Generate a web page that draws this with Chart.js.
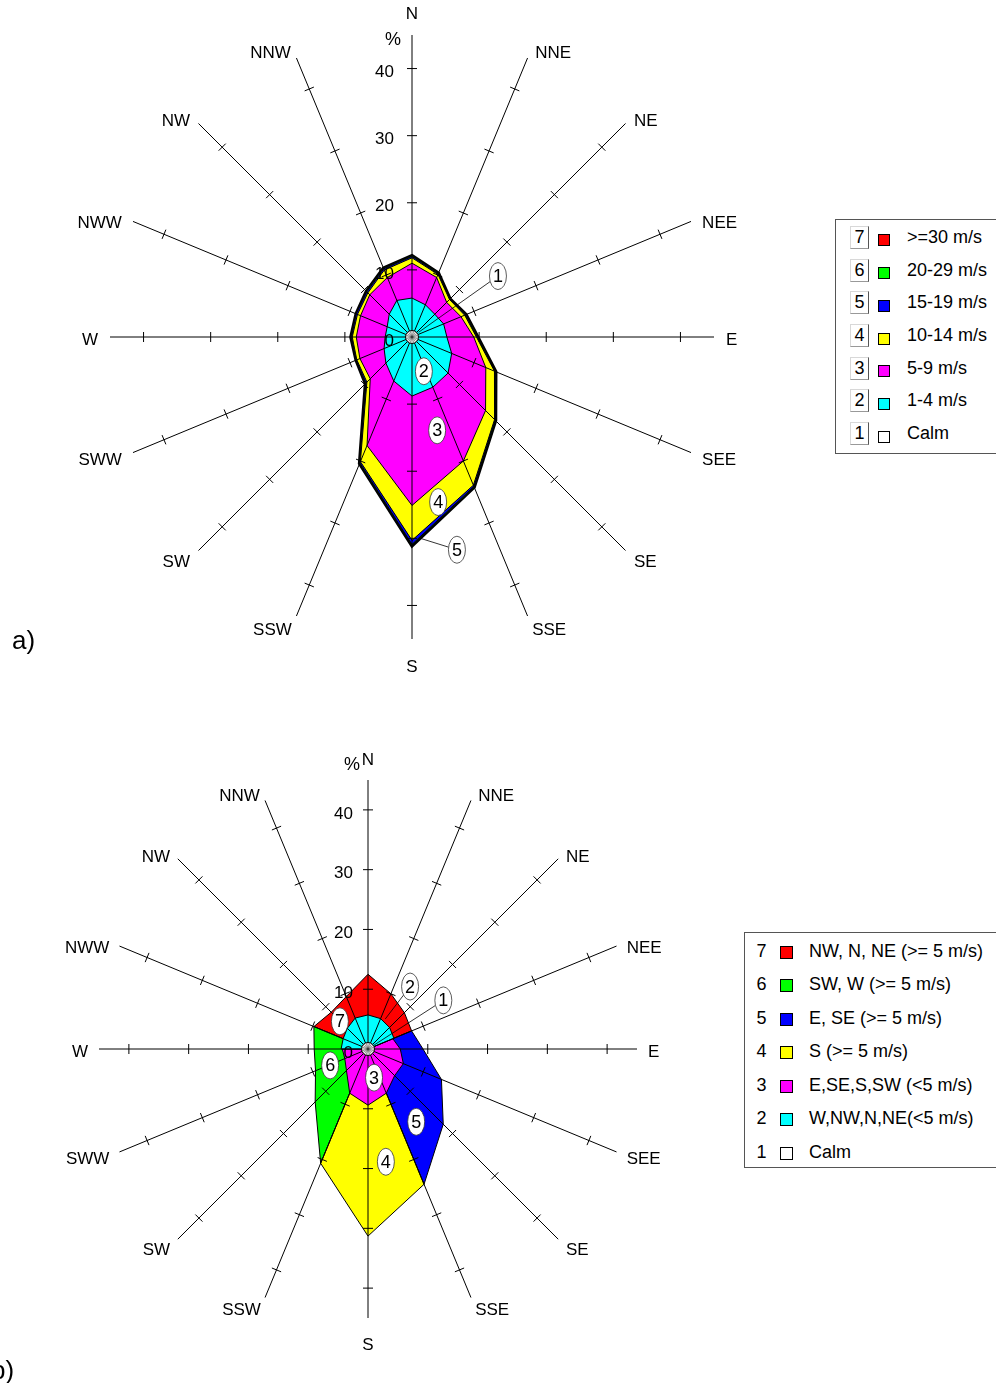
<!DOCTYPE html>
<html lang="en">
<head>
<meta charset="utf-8">
<title>Wind roses</title>
<script src="https://cdn.jsdelivr.net/npm/chart.js@4.4.1/dist/chart.umd.min.js"></script>
<style>
  html, body { margin: 0; padding: 0; background: #fff; }
  body { position: relative; width: 996px; height: 1383px; overflow: hidden;
         font-family: "Liberation Sans", Arial, Helvetica, sans-serif; color: #000; }
  canvas { position: absolute; left: 0; }
  #roseA { top: 0; }
  #roseB { top: 700px; }
  .panel-tag { position: absolute; font-size: 26px; line-height: 30px; }
  .legend { position: absolute; background: #fff; border: 1px solid #555; box-sizing: border-box; z-index: 2; }
  .lg-row { position: absolute; left: 0; right: 0; display: flex; align-items: center; font-size: 18px; white-space: nowrap; }
  .lg-num { text-align: center; box-sizing: border-box; flex: none; }
  .framed .lg-num { border-top: 1px solid #d8d8d8; border-left: 1px solid #d8d8d8;
                    border-right: 1px solid #555; border-bottom: 1px solid #999; height: 23px; line-height: 21px; }
  .lg-sw { border: 1px solid #000; box-sizing: border-box; flex: none; position: relative; }
</style>
</head>
<body>
<canvas id="roseA" width="830" height="700"></canvas>
<canvas id="roseB" width="830" height="683"></canvas>
<div class="panel-tag" style="left:12px;top:625px;">a)</div>
<div class="panel-tag" style="left:-9px;top:1355px;">b)</div>
<div class="legend framed" id="legendA" style="left:835px;top:219px;width:175px;height:235px;"></div>
<div class="legend" id="legendB" style="left:744px;top:932px;width:260px;height:236px;"></div>
<script>
// ---- shared axis definition ----
const DIRECTIONS = ['N', 'NNE', 'NE', 'NEE', 'E', 'SEE', 'SE', 'SSE', 'S', 'SSW', 'SW', 'SWW', 'W', 'NWW', 'NW', 'NNW'];
const RADIAL_TICKS = [0, 10, 20, 30, 40];
const RADIAL_MAX = 45;

// class colours, class 1 (Calm) .. class 7
const CLASS_COLORS = ['#ffffff', '#00ffff', '#ff00ff', '#ffff00', '#0000ff', '#00ff00', '#ff0000'];

// ---- rose a: frequency (%) of each wind-speed class per direction ----
const A_CLASS_LABELS = ['Calm', '1-4 m/s', '5-9 m/s', '10-14 m/s', '15-19 m/s', '20-29 m/s', '>=30 m/s'];
const A_SPEED_1_4   = [5.8, 5.2, 4.8, 5.1, 5.2, 6.4, 7.6, 8.1, 8.8, 7.1, 5.5, 4.5, 4.0, 4.0, 4.8, 5.9];
const A_SPEED_5_9   = [5.2, 4.4, 2.5, 2.8, 4.0, 5.5, 7.9, 11.9, 16.3, 10.4, 3.3, 3.9, 4.3, 4.3, 4.1, 3.7];
const A_SPEED_10_14 = [0.8, 0.5, 0.6, 0.6, 0.4, 1.4, 1.9, 3.9, 5.2, 2.6, 0.7, 0.5, 0.6, 0.5, 0.4, 1.2];
const A_SPEED_15_19 = [0.2, 0.1, 0.1, 0.1, 0.1, 0.1, 0.1, 0.2, 0.6, 0.2, 0.2, 0.1, 0.1, 0.2, 0.2, 0.2];
const A_SPEED_20_29 = [0.1, 0.1, 0.0, 0.1, 0.1, 0.1, 0.1, 0.1, 0.1, 0.1, 0.1, 0.0, 0.1, 0.0, 0.1, 0.1];
const A_SPEED_30_UP = [0.0, 0.0, 0.0, 0.0, 0.0, 0.0, 0.0, 0.0, 0.1, 0.0, 0.0, 0.0, 0.0, 0.0, 0.0, 0.0];

// ---- rose b: grouped sectors, outer radius (%) per direction (0 = not part of the group) ----
const B_CLASS_LABELS = ['Calm', 'W,NW,N,NE(<5 m/s)', 'E,SE,S,SW (<5 m/s)', 'S (>= 5 m/s)',
                        'E, SE (>= 5 m/s)', 'SW, W (>= 5 m/s)', 'NW, N, NE (>= 5 m/s)'];
const B_NORTH_LOW  = [5.7, 5.5, 5.1, 4.7, 0, 0, 0, 0, 0, 0, 0, 0, 4.5, 4.5, 4.9, 5.6];
const B_SOUTH_LOW  = [0, 0, 0, 4.5, 5.4, 6.4, 6.3, 8.0, 9.4, 8.0, 5.1, 4.2, 4.3, 0, 0, 0];
const B_S_HIGH     = [0, 0, 0, 0, 0, 0, 0, 24.5, 31.3, 20.7, 0, 0, 0, 0, 0, 0];
const B_E_SE_HIGH  = [0, 0, 0, 7.9, 9.2, 13.3, 17.8, 24.5, 0, 0, 0, 0, 0, 0, 0, 0];
const B_SW_W_HIGH  = [0, 0, 0, 0, 0, 0, 0, 0, 0, 20.7, 12.5, 9.5, 9.0, 9.8, 0, 0];
const B_NW_NE_HIGH = [12.5, 10.0, 8.6, 7.9, 0, 0, 0, 0, 0, 0, 0, 0, 0, 9.8, 8.7, 9.5];

// numbered class markers: [text, direction index, value %, leader direction index, leader value %]
const A_MARKERS = [
  ['1', 2.43, 15.7, 2.43, 1.2],
  ['2', 7.15, 5.4],
  ['3', 7.33, 14.4],
  ['4', 7.6, 24.9],
  ['5', 7.47, 32.4, 7.9, 30.0]
];
const B_MARKERS = [
  ['1', 2.54, 15.0, 2.54, 1.2],
  ['2', 1.51, 12.6, 1.33, 5.8],
  ['3', 7.47, 4.9],
  ['4', 7.6, 19.1],
  ['5', 6.51, 14.6],
  ['6', 10.96, 6.9],
  ['7', 13.98, 6.6]
];

const FONT = '"Liberation Sans", Arial, Helvetica, sans-serif';

// running totals, one ring per speed class
function cumulate(layers) {
  let run = new Array(DIRECTIONS.length).fill(0);
  return layers.map(layer => {
    run = run.map((v, i) => Math.round((v + layer[i]) * 100) / 100);
    return run.slice();
  });
}

// spokes' tick marks, axis numbers, direction names, calm disc and numbered markers
const roseDecor = {
  id: 'roseDecor',
  afterDraw(chart, args, opts) {
    const r = chart.scales.r;
    const ctx = chart.ctx;
    const n = chart.data.labels.length;
    ctx.save();

    // short ticks across every spoke
    ctx.strokeStyle = '#000';
    ctx.lineWidth = 1;
    for (let i = 0; i < n; i++) {
      RADIAL_TICKS.forEach(v => {
        if (v === 0) return;
        const p = r.getPointPositionForValue(i, v);
        const px = -Math.sin(p.angle), py = Math.cos(p.angle);
        ctx.beginPath();
        ctx.moveTo(p.x - px * 5, p.y - py * 5);
        ctx.lineTo(p.x + px * 5, p.y + py * 5);
        ctx.stroke();
      });
    }

    // calm disc at the centre
    const cr = opts.calmRadius;
    ctx.beginPath();
    ctx.arc(r.xCenter, r.yCenter, cr, 0, Math.PI * 2);
    ctx.fillStyle = '#fff';
    ctx.fill();
    ctx.strokeStyle = '#333';
    ctx.lineWidth = 0.5;
    for (let k = 0; k < 20; k++) {
      const a = k * Math.PI / 10;
      ctx.beginPath();
      ctx.moveTo(r.xCenter, r.yCenter);
      ctx.lineTo(r.xCenter + Math.cos(a) * cr, r.yCenter + Math.sin(a) * cr);
      ctx.stroke();
    }
    ctx.beginPath();
    ctx.arc(r.xCenter, r.yCenter, cr, 0, Math.PI * 2);
    ctx.strokeStyle = '#000';
    ctx.lineWidth = 1;
    ctx.stroke();

    // axis numbers along the north spoke
    ctx.fillStyle = '#000';
    ctx.font = '17px ' + FONT;
    ctx.textAlign = 'right';
    ctx.textBaseline = 'middle';
    RADIAL_TICKS.forEach(v => {
      const y = r.yCenter - r.getDistanceFromCenterForValue(v);
      ctx.fillText(String(v), r.xCenter - opts.tickGap, y + 4);
    });
    ctx.textAlign = 'center';
    ctx.font = '18px ' + FONT;
    ctx.fillText('%', r.xCenter + opts.percentDx, r.yCenter - r.getDistanceFromCenterForValue(opts.percentValue));

    // direction names
    ctx.font = '17px ' + FONT;
    const outer = r.getDistanceFromCenterForValue(RADIAL_MAX);
    chart.data.labels.forEach((label, i) => {
      const p = r.getPointPosition(i, outer + opts.labelPad);
      const c = Math.cos(p.angle), s = Math.sin(p.angle);
      let align = 'center', base = 'middle', dx = 0, dy = 3;
      if (Math.abs(c) < 0.05) {
        base = s < 0 ? 'bottom' : 'top';
        dy = s < 0 ? 0 : 8;
      } else {
        align = c > 0 ? 'left' : 'right';
        if (s < -0.1) dy = 6;
        if (s < -0.85) dx = c > 0 ? 3 : -1;
      }
      ctx.textAlign = align;
      ctx.textBaseline = base;
      ctx.fillText(label, p.x + dx, p.y + dy);
    });

    // numbered class markers
    const rx = 8.5, ry = 13.5;
    (opts.markers || []).forEach(m => {
      const [text, idx, val, tIdx, tVal] = m;
      const p = r.getPointPositionForValue(idx, val);
      if (tIdx !== undefined) {
        const t = r.getPointPositionForValue(tIdx, tVal);
        const dx = t.x - p.x, dy = t.y - p.y;
        const k = 1 / Math.sqrt((dx / rx) ** 2 + (dy / ry) ** 2);
        ctx.beginPath();
        ctx.moveTo(p.x + dx * k, p.y + dy * k);
        ctx.lineTo(t.x, t.y);
        ctx.strokeStyle = '#000';
        ctx.lineWidth = 0.8;
        ctx.stroke();
      }
      ctx.beginPath();
      ctx.ellipse(p.x, p.y, rx, ry, 0, 0, Math.PI * 2);
      ctx.fillStyle = '#fff';
      ctx.fill();
      ctx.strokeStyle = '#333';
      ctx.lineWidth = 0.8;
      ctx.stroke();
      ctx.fillStyle = '#000';
      ctx.font = '18px ' + FONT;
      ctx.textAlign = 'center';
      ctx.textBaseline = 'middle';
      ctx.fillText(text, p.x, p.y + 1);
    });
    ctx.restore();
  }
};

function roseOptions(padding, decor) {
  return {
    responsive: false,
    animation: false,
    devicePixelRatio: 1,
    layout: { padding },
    events: [],
    plugins: { legend: { display: false }, tooltip: { enabled: false }, roseDecor: decor },
    elements: { point: { radius: 0, hoverRadius: 0 }, line: { tension: 0 } },
    scales: {
      r: {
        min: 0,
        max: RADIAL_MAX,
        startAngle: 0,
        grid: { display: false, z: 1 },
        angleLines: { display: true, color: '#000', lineWidth: 1 },
        ticks: { display: false, stepSize: 10 },
        pointLabels: { display: false }
      }
    }
  };
}

// ---- rose a: stacked speed classes ----
const aRings = cumulate([A_SPEED_1_4, A_SPEED_5_9, A_SPEED_10_14, A_SPEED_15_19, A_SPEED_20_29, A_SPEED_30_UP]);
const aDatasets = aRings.map((ring, k) => ({
  label: A_CLASS_LABELS[k + 1],
  data: ring,
  backgroundColor: CLASS_COLORS[k + 1],
  borderColor: '#000',
  borderWidth: k === aRings.length - 1 ? 3.5 : 1,
  fill: 'origin'
}));
new Chart(document.getElementById('roseA'), {
  type: 'radar',
  data: { labels: DIRECTIONS, datasets: aDatasets },
  options: roseOptions({ left: 110, top: 35, right: 116, bottom: 61 },
    { calmRadius: 6.5, tickGap: 18, percentDx: -19, percentValue: 44.2, labelPad: 12, markers: A_MARKERS }),
  plugins: [roseDecor]
});

// ---- rose b: grouped sectors ----
const bSectors = [B_NORTH_LOW, B_SOUTH_LOW, B_S_HIGH, B_E_SE_HIGH, B_SW_W_HIGH, B_NW_NE_HIGH];
const bDatasets = bSectors.map((sector, k) => ({
  label: B_CLASS_LABELS[k + 1],
  data: sector,
  backgroundColor: CLASS_COLORS[k + 1],
  borderColor: '#000',
  borderWidth: 1,
  fill: 'origin'
}));
new Chart(document.getElementById('roseB'), {
  type: 'radar',
  data: { labels: DIRECTIONS, datasets: bDatasets },
  options: roseOptions({ left: 99, top: 80, right: 193, bottom: 65 },
    { calmRadius: 6.5, tickGap: 15, percentDx: -16, percentValue: 47.5, labelPad: 11, markers: B_MARKERS }),
  plugins: [roseDecor]
});

// ---- legends ----
function buildLegend(id, labels, layout) {
  const box = document.getElementById(id);
  const count = labels.length;
  for (let k = count - 1; k >= 0; k--) {
    const slot = count - 1 - k;
    const row = document.createElement('div');
    row.className = 'lg-row';
    row.style.top = (layout.firstCenter + slot * layout.step - layout.step / 2) + 'px';
    row.style.height = layout.step + 'px';
    const num = document.createElement('div');
    num.className = 'lg-num';
    num.textContent = String(k + 1);
    num.style.marginLeft = layout.numLeft + 'px';
    num.style.width = layout.numWidth + 'px';
    const sw = document.createElement('div');
    sw.className = 'lg-sw';
    sw.style.background = CLASS_COLORS[k];
    sw.style.width = sw.style.height = layout.swatch + 'px';
    sw.style.marginLeft = layout.swLeft + 'px';
    sw.style.top = layout.swDy + 'px';
    const tx = document.createElement('div');
    tx.textContent = labels[k];
    tx.style.marginLeft = layout.textLeft + 'px';
    row.append(num, sw, tx);
    box.appendChild(row);
  }
}
buildLegend('legendA', A_CLASS_LABELS,
  { firstCenter: 17.5, step: 32.7, numLeft: 14, numWidth: 19, swLeft: 9, swatch: 12, swDy: 3, textLeft: 17 });
buildLegend('legendB', B_CLASS_LABELS,
  { firstCenter: 18, step: 33.5, numLeft: 8, numWidth: 17, swLeft: 10, swatch: 13, swDy: 1, textLeft: 16 });
</script>
</body>
</html>
